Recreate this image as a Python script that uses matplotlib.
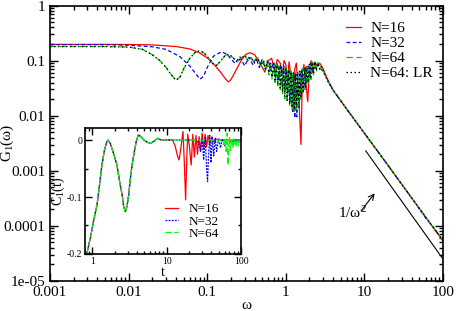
import matplotlib
matplotlib.use('Agg')
import matplotlib.pyplot as plt
from matplotlib.ticker import LogLocator, NullFormatter, MultipleLocator

plt.rcParams['font.family'] = ['Liberation Serif', 'DejaVu Serif']
plt.rcParams['mathtext.fontset'] = 'custom'
plt.rcParams['mathtext.rm'] = 'Liberation Serif'
plt.rcParams['mathtext.it'] = 'Liberation Serif'

# ---- main panel: G_1(omega) ----
omega16 = [0.001, 0.005, 0.01, 0.02, 0.04, 0.06, 0.08, 0.1, 0.12, 0.15, 0.17, 0.186, 0.2,
           0.23, 0.27, 0.31, 0.35, 0.4, 0.46, 0.54, 0.6, 0.66, 0.72, 0.78, 0.85, 0.9, 0.95,
           1.0, 1.05, 1.1, 1.15, 1.2, 1.25, 1.3, 1.36, 1.42, 1.48, 1.56, 1.63, 1.7, 1.8, 1.9,
           2.0, 2.1, 2.2, 2.35, 2.5, 2.7, 3.0, 3.4, 4.0, 6.0, 10, 20, 40, 100]
g16 = [0.197, 0.197, 0.196, 0.193, 0.18, 0.163, 0.138, 0.112, 0.088, 0.06, 0.047, 0.041, 0.045,
       0.065, 0.10, 0.13, 0.139, 0.128, 0.095, 0.062, 0.10, 0.11, 0.068, 0.105, 0.09, 0.055, 0.1,
       0.085, 0.04, 0.095, 0.06, 0.03, 0.012, 0.07, 0.09, 0.04, 0.015, 0.003, 0.06, 0.085, 0.04, 0.018,
       0.07, 0.1, 0.06, 0.095, 0.08, 0.09, 0.07, 0.045, 0.029, 0.013, 0.0048, 0.00125, 0.00032, 5.3e-5]

omega32 = [0.001, 0.005, 0.01, 0.02, 0.03, 0.045, 0.06, 0.07, 0.081, 0.09, 0.1, 0.12, 0.152,
           0.18, 0.2, 0.226, 0.26, 0.3, 0.34, 0.38, 0.42, 0.46, 0.5, 0.55, 0.6, 0.65, 0.7,
           0.74, 0.78, 0.82, 0.86, 0.9, 0.94, 0.98, 1.02, 1.06, 1.1, 1.14, 1.18, 1.22, 1.26,
           1.3, 1.34, 1.38, 1.42, 1.47, 1.52, 1.57, 1.63, 1.7, 1.77, 1.85, 1.93, 2.02, 2.1,
           2.2, 2.3, 2.45, 2.6, 2.8, 3.0, 3.4, 4.0, 6.0, 10, 20, 40, 60, 80, 100]
g32 = [0.195, 0.195, 0.19, 0.178, 0.16, 0.118, 0.08, 0.06, 0.046, 0.052, 0.075, 0.12, 0.145,
       0.13, 0.108, 0.089, 0.118, 0.08, 0.115, 0.085, 0.11, 0.075, 0.105, 0.07, 0.1, 0.065, 0.095,
       0.05, 0.09, 0.045, 0.085, 0.035, 0.08, 0.03, 0.075, 0.025, 0.07, 0.018, 0.065, 0.012, 0.06,
       0.009, 0.055, 0.0095, 0.06, 0.014, 0.065, 0.02, 0.07, 0.03, 0.075, 0.04, 0.08, 0.05, 0.09,
       0.06, 0.092, 0.07, 0.085, 0.07, 0.065, 0.045, 0.029, 0.013, 0.0048, 0.00125, 0.00032,
       0.00014, 8.5e-5, 5.4e-5]

omega64 = [0.001, 0.005, 0.01, 0.015, 0.02, 0.025, 0.03, 0.035, 0.04, 0.045, 0.05, 0.06, 0.07,
           0.079, 0.09, 0.105, 0.12, 0.132, 0.15, 0.17, 0.19, 0.21, 0.24, 0.27, 0.3, 0.33, 0.36,
           0.4, 0.44, 0.48, 0.52, 0.55, 0.58, 0.61, 0.64, 0.67, 0.7, 0.73, 0.76, 0.79, 0.82,
           0.85, 0.88, 0.91, 0.94, 0.97, 1.0, 1.04, 1.08, 1.12, 1.16, 1.2, 1.24, 1.28, 1.32,
           1.36, 1.4, 1.45, 1.5, 1.55, 1.6, 1.66, 1.72, 1.78, 1.85, 1.92, 2.0, 2.08, 2.16,
           2.25, 2.35, 2.45, 2.56, 2.7, 2.85, 3.0, 3.2, 3.5, 4.0, 6.0, 10, 20, 40, 100]
g64 = [0.18, 0.18, 0.176, 0.16, 0.128, 0.1, 0.075, 0.055, 0.044, 0.05, 0.07, 0.11, 0.14,
       0.15, 0.14, 0.11, 0.085, 0.082, 0.1, 0.125, 0.13, 0.115, 0.095, 0.11, 0.125, 0.1, 0.115,
       0.09, 0.112, 0.08, 0.105, 0.065, 0.1, 0.055, 0.095, 0.045, 0.09, 0.04, 0.085, 0.035, 0.08,
       0.03, 0.078, 0.025, 0.075, 0.02, 0.072, 0.018, 0.07, 0.015, 0.065, 0.013, 0.06, 0.012, 0.06,
       0.013, 0.062, 0.016, 0.065, 0.02, 0.07, 0.025, 0.075, 0.03, 0.08, 0.038, 0.088, 0.045, 0.095,
       0.055, 0.095, 0.065, 0.092, 0.07, 0.08, 0.065, 0.052, 0.04, 0.029, 0.013, 0.0048, 0.00125,
       0.00032, 5.4e-5]
g64_lr = [0.18, 0.18, 0.176, 0.16, 0.128, 0.1, 0.075, 0.055, 0.044, 0.05, 0.07, 0.11, 0.14,
          0.15, 0.14, 0.11, 0.085, 0.082, 0.1, 0.125, 0.13, 0.115, 0.095, 0.11, 0.125, 0.1, 0.115,
          0.09, 0.11, 0.082, 0.1, 0.07, 0.095, 0.06, 0.09, 0.05, 0.088, 0.042, 0.082, 0.037, 0.078,
          0.032, 0.075, 0.027, 0.072, 0.022, 0.07, 0.019, 0.068, 0.016, 0.063, 0.014, 0.06, 0.013, 0.058,
          0.014, 0.06, 0.017, 0.064, 0.021, 0.068, 0.026, 0.074, 0.032, 0.08, 0.04, 0.086, 0.047, 0.092,
          0.057, 0.094, 0.066, 0.09, 0.07, 0.078, 0.064, 0.051, 0.04, 0.029, 0.013, 0.0048, 0.00125,
          0.00032, 5.4e-5]

# 1/omega^2 guide line and arrow
omega_ref = [10.4, 100]
g_ref = [0.0023, 2.5e-5]
arrow_tail = (9.06, 1.87e-4)
arrow_head = (13.5, 3.9e-4)

# ---- inset: C_1(t) ----
t_all = [0.8, 0.85, 0.95, 1.05, 1.16, 1.25, 1.35, 1.45, 1.55, 1.63, 1.75, 1.9, 2.15, 2.35, 2.52,
         2.65, 2.79, 2.95, 3.1, 3.26, 3.45, 3.69, 3.9, 4.15, 4.5, 4.94, 5.5, 6.08, 6.8, 7.5,
         8.5, 10, 12]
c_all = [-0.215, -0.198, -0.17, -0.14, -0.114, -0.08, -0.044, -0.02, -0.005, 0.0, -0.006, -0.02,
         -0.044, -0.075, -0.096, -0.117, -0.126, -0.115, -0.095, -0.067, -0.042, -0.02, -0.003,
         0.009, 0.006, 0.0, -0.004, -0.006, -0.002, 0.003, 0.0, 0.0, 0.0]

t16 = [12, 13, 14, 14.7, 15.5, 16.6, 17.3, 18.0, 18.6, 19.2, 20.2, 21.4, 22.5, 23.6, 24.8, 26,
       27.3, 28.6, 30, 31.5, 33, 34.5, 36, 38, 40, 43, 46, 50, 60, 100]
c16 = [0.0, -0.01, -0.028, -0.035, -0.015, 0.015, -0.04, -0.105, -0.04, 0.01, -0.01, -0.044, 0.01,
       -0.03, 0.008, -0.025, 0.006, -0.02, 0.012, -0.015, 0.01, -0.012, 0.008, -0.008, 0.005,
       -0.004, 0.002, 0.0, 0.0, 0.0]

t32 = [12, 25, 27, 28.5, 30, 31.5, 33, 34.5, 35.5, 36.5, 38, 39.5, 41, 43, 45, 47, 50, 53, 56,
       60, 65, 70, 80, 100]
c32 = [0.0, 0.0, -0.005, -0.02, 0.003, -0.035, 0.005, -0.05, -0.073, -0.03, 0.008, -0.04, 0.005,
       -0.028, 0.004, -0.02, 0.003, -0.014, 0.002, -0.01, -0.005, -0.003, -0.002, 0.0]

t64 = [12, 50, 55, 58, 61, 63, 65, 67, 68.5, 70, 72, 75, 78, 81, 85, 89, 93, 97, 100]
c64 = [0.0, 0.0, -0.002, -0.008, 0.002, -0.02, 0.012, -0.044, -0.01, 0.004, -0.018, 0.003,
       -0.014, 0.002, -0.012, 0.002, -0.01, 0.001, -0.008]

main_xticks = [0.001, 0.01, 0.1, 1, 10, 100]
main_xlabels = ['0.001', '0.01', '0.1', '1', '10', '100']
main_yticks = [1e-5, 1e-4, 1e-3, 1e-2, 0.1, 1]
main_ylabels = ['1e-05', '0.0001', '0.001', '0.01', '0.1', '1']


def style_axes(ax, major, minor):
    for s in ax.spines.values():
        s.set_linewidth(1.2)
    ax.tick_params(which='both', direction='in', top=True, right=True, width=1.0)
    ax.tick_params(which='major', length=major)
    ax.tick_params(which='minor', length=minor)


def Main():
    fig = plt.figure(figsize=(4.57, 3.11), dpi=100)
    ax = fig.add_axes([0.1094, 0.0965, 0.8600, 0.8858])

    ax.plot(omega16, g16, color='red', lw=0.9, label='N=16')
    ax.plot(omega32, g32, color='blue', lw=0.9, ls=(0, (3, 2)), label='N=32')
    ax.plot(omega64, g64, color='#00c800', lw=0.9, ls=(0, (5, 3)), label='N=64')
    ax.plot(omega64, g64_lr, color='black', lw=0.9, ls=(0, (1.2, 2)), label='N=64: LR')
    ax.plot(omega_ref, g_ref, color='black', lw=0.8)

    ax.annotate('', xy=arrow_head, xytext=arrow_tail,
                arrowprops=dict(arrowstyle='->', color='black', lw=0.8, shrinkA=0, shrinkB=0))
    ax.text(7.1, 1.7e-4, r'1/ω$^2$', fontsize=11, ha='center', va='center')

    ax.set_xscale('log')
    ax.set_yscale('log')
    ax.set_xlim(0.001, 100)
    ax.set_ylim(1e-5, 1)
    ax.set_xticks(main_xticks)
    ax.set_xticklabels(main_xlabels)
    ax.set_yticks(main_yticks)
    ax.set_yticklabels(main_ylabels)
    ax.xaxis.set_minor_locator(LogLocator(base=10, subs=range(2, 10), numticks=20))
    ax.yaxis.set_minor_locator(LogLocator(base=10, subs=range(2, 10), numticks=20))
    ax.xaxis.set_minor_formatter(NullFormatter())
    ax.yaxis.set_minor_formatter(NullFormatter())
    ax.tick_params(labelsize=11)
    style_axes(ax, 6, 3)
    ax.set_xlabel('ω', fontsize=11, labelpad=0)
    ax.set_ylabel(r'G$_1$(ω)', fontsize=11)
    ax.yaxis.set_label_coords(-0.087, 0.5)

    ax.legend(loc='upper left', bbox_to_anchor=(0.757, 0.93), bbox_transform=fig.transFigure,
              frameon=False, fontsize=11, handlelength=1.0, handletextpad=0.6,
              labelspacing=0.08, borderpad=0, borderaxespad=0)

    # inset with the time correlation
    ins = fig.add_axes([0.186, 0.1833, 0.3414, 0.405])
    ins.plot(t_all, c_all, color='red', lw=0.9)
    ins.plot(t16, c16, color='red', lw=0.9, label='N=16')
    ins.plot(t_all, c_all, color='blue', lw=0.9, ls=(0, (1.5, 1)))
    ins.plot(t32, c32, color='blue', lw=0.9, ls=(0, (1.5, 1)), label='N=32')
    ins.plot(t_all, c_all, color='#00ff00', lw=0.9, ls=(0, (5, 2)))
    ins.plot(t64, c64, color='#00ff00', lw=0.9, ls=(0, (5, 2)), label='N=64')
    ins.set_xscale('log')
    ins.set_xlim(0.8, 100)
    ins.set_ylim(-0.2, 0.021)
    ins.set_xticks([1, 10, 100])
    ins.set_xticklabels(['1', '10', '100'])
    ins.xaxis.set_minor_locator(LogLocator(base=10, subs=range(2, 10), numticks=20))
    ins.xaxis.set_minor_formatter(NullFormatter())
    ins.set_yticks([-0.2, -0.1, 0])
    ins.set_yticklabels(['-0.2', '-0.1', '0'])
    ins.yaxis.set_minor_locator(MultipleLocator(0.05))
    ins.tick_params(labelsize=7, pad=2)
    style_axes(ins, 5, 2.5)
    ins.set_xlabel('t', fontsize=10, labelpad=0)
    ins.set_ylabel(r'C$_1$(t)', fontsize=10, labelpad=0)
    ins.legend(loc='upper left', bbox_to_anchor=(0.361, 0.347), bbox_transform=fig.transFigure,
               frameon=False, fontsize=9.5, handlelength=1.0, handletextpad=0.8,
               labelspacing=0.0, borderpad=0, borderaxespad=0)

    fig.savefig('out.png', dpi=100)


if __name__ == '__main__':
    Main()
